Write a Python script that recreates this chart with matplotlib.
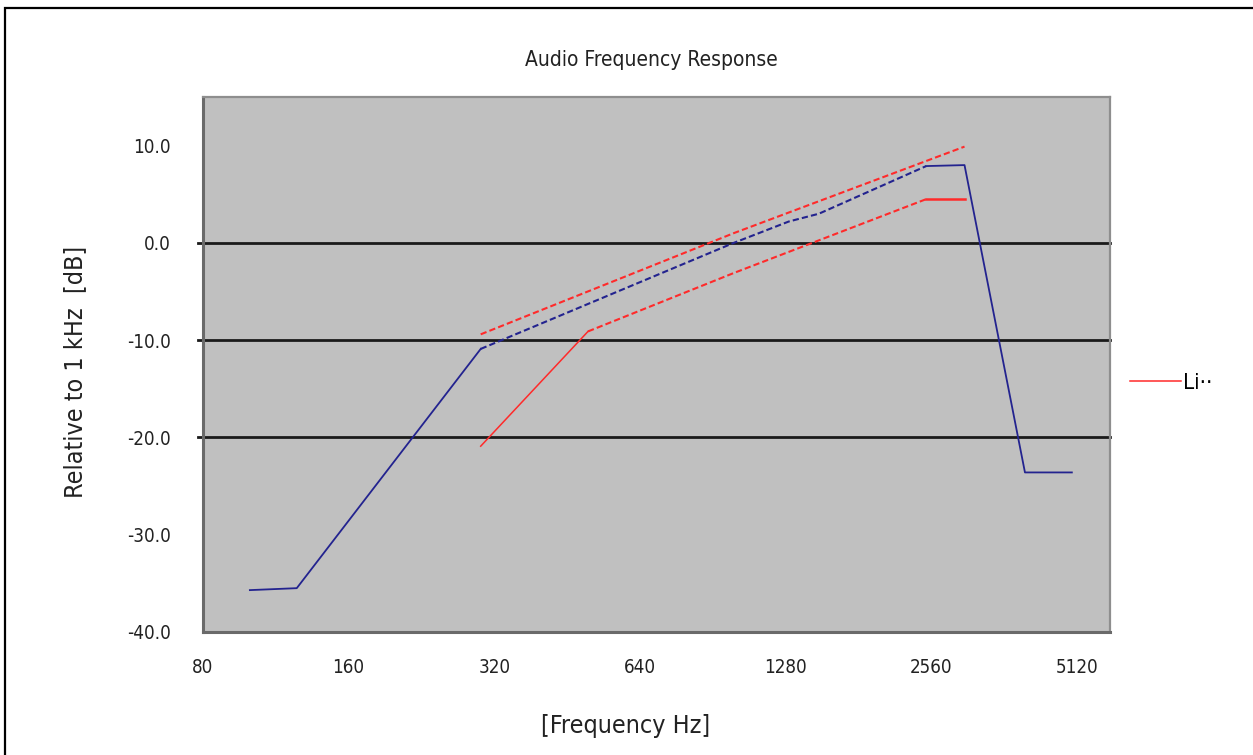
import numpy as np
import matplotlib.pyplot as plt
from matplotlib.patches import Rectangle

plt.rcParams['font.family'] = ['DejaVu Sans']
plt.rcParams['font.stretch'] = 'condensed'

# measured response, dB relative to 1 kHz
freq = [100, 125, 300, 1000, 1300, 1500, 2500, 3000, 4000, 5000]
resp = [-35.7, -35.5, -10.9, 0.0, 2.2, 3.0, 7.9, 8.0, -23.6, -23.6]

# upper / lower limit lines
upper_freq = [300, 1000, 3000]
upper_db = [-9.4, 1.0, 9.9]
lower_freq = [300, 500, 1000, 2500, 3000]
lower_db = [-20.9, -9.1, -3.1, 4.5, 4.5]

xticks = [80, 160, 320, 640, 1280, 2560, 5120]
yticks = [10, 0, -10, -20, -30, -40]
grid_y = [0, -10, -20]

navy = '#23238f'
red = '#ff2a2a'
dash = (0, (3, 1.5))

fig = plt.figure(figsize=(12.53, 7.55), dpi=100)
fig.patches.append(Rectangle((0.004, -0.1), 1.2, 1.09, transform=fig.transFigure,
                             fill=False, edgecolor='black', linewidth=1.6))

ax = fig.add_axes([0.162, 0.163, 0.724, 0.7085])
ax.set_facecolor('#c0c0c0')
ax.set_xscale('log', base=2)
ax.set_xlim(80, 6000)
ax.set_ylim(-40, 15)

for y in grid_y:
    ax.axhline(y, xmin=-0.005, xmax=1, color='#1a1a1a', lw=2.0, clip_on=False, zorder=1)

# blue measured curve: steep parts solid, the sloped middle dashed
ax.plot(freq[:3], resp[:3], color=navy, lw=1.3, zorder=3)
ax.plot(freq[2:7], resp[2:7], color=navy, lw=1.5, ls=dash, zorder=3)
ax.plot(freq[6:], resp[6:], color=navy, lw=1.3, zorder=3)

ax.plot(upper_freq, upper_db, color=red, lw=1.5, ls=dash, zorder=3)
ax.plot(lower_freq[:2], lower_db[:2], color=red, lw=1.1, zorder=3, label='Li··')
ax.plot(lower_freq[1:4], lower_db[1:4], color=red, lw=1.5, ls=dash, zorder=3)
ax.plot(lower_freq[3:], lower_db[3:], color=red, lw=1.8, zorder=3)

ax.set_xticks(xticks)
ax.set_xticklabels([str(x) for x in xticks])
ax.xaxis.set_minor_locator(plt.NullLocator())
ax.set_yticks(yticks)
ax.set_yticklabels(['%.1f' % y for y in yticks])
ax.tick_params(axis='x', length=0, pad=19, labelsize=13.5, colors='#222222')
ax.tick_params(axis='y', length=0, pad=23, labelsize=13.5, colors='#222222')

for s in ['left', 'bottom']:
    ax.spines[s].set_color('#6a6a6a')
    ax.spines[s].set_linewidth(2.2)
for s in ['top', 'right']:
    ax.spines[s].set_color('#8e8e8e')
    ax.spines[s].set_linewidth(1.6)

fig.text(0.52, 0.921, 'Audio Frequency Response', ha='center', va='center',
         fontsize=15, color='#222222')
fig.text(0.499, 0.039, '[Frequency Hz]', ha='center', va='center',
         fontsize=18, color='#222222')
fig.text(0.06, 0.508, 'Relative to 1 kHz  [dB]', ha='center', va='center',
         rotation=90, fontsize=18, color='#222222')

fig.legend(loc='center left', bbox_to_anchor=(1110 / 1253, 1 - 383 / 755),
           frameon=False, fontsize=16, handlelength=2.3, handletextpad=0.1)

fig.savefig('out.png', dpi=100)
